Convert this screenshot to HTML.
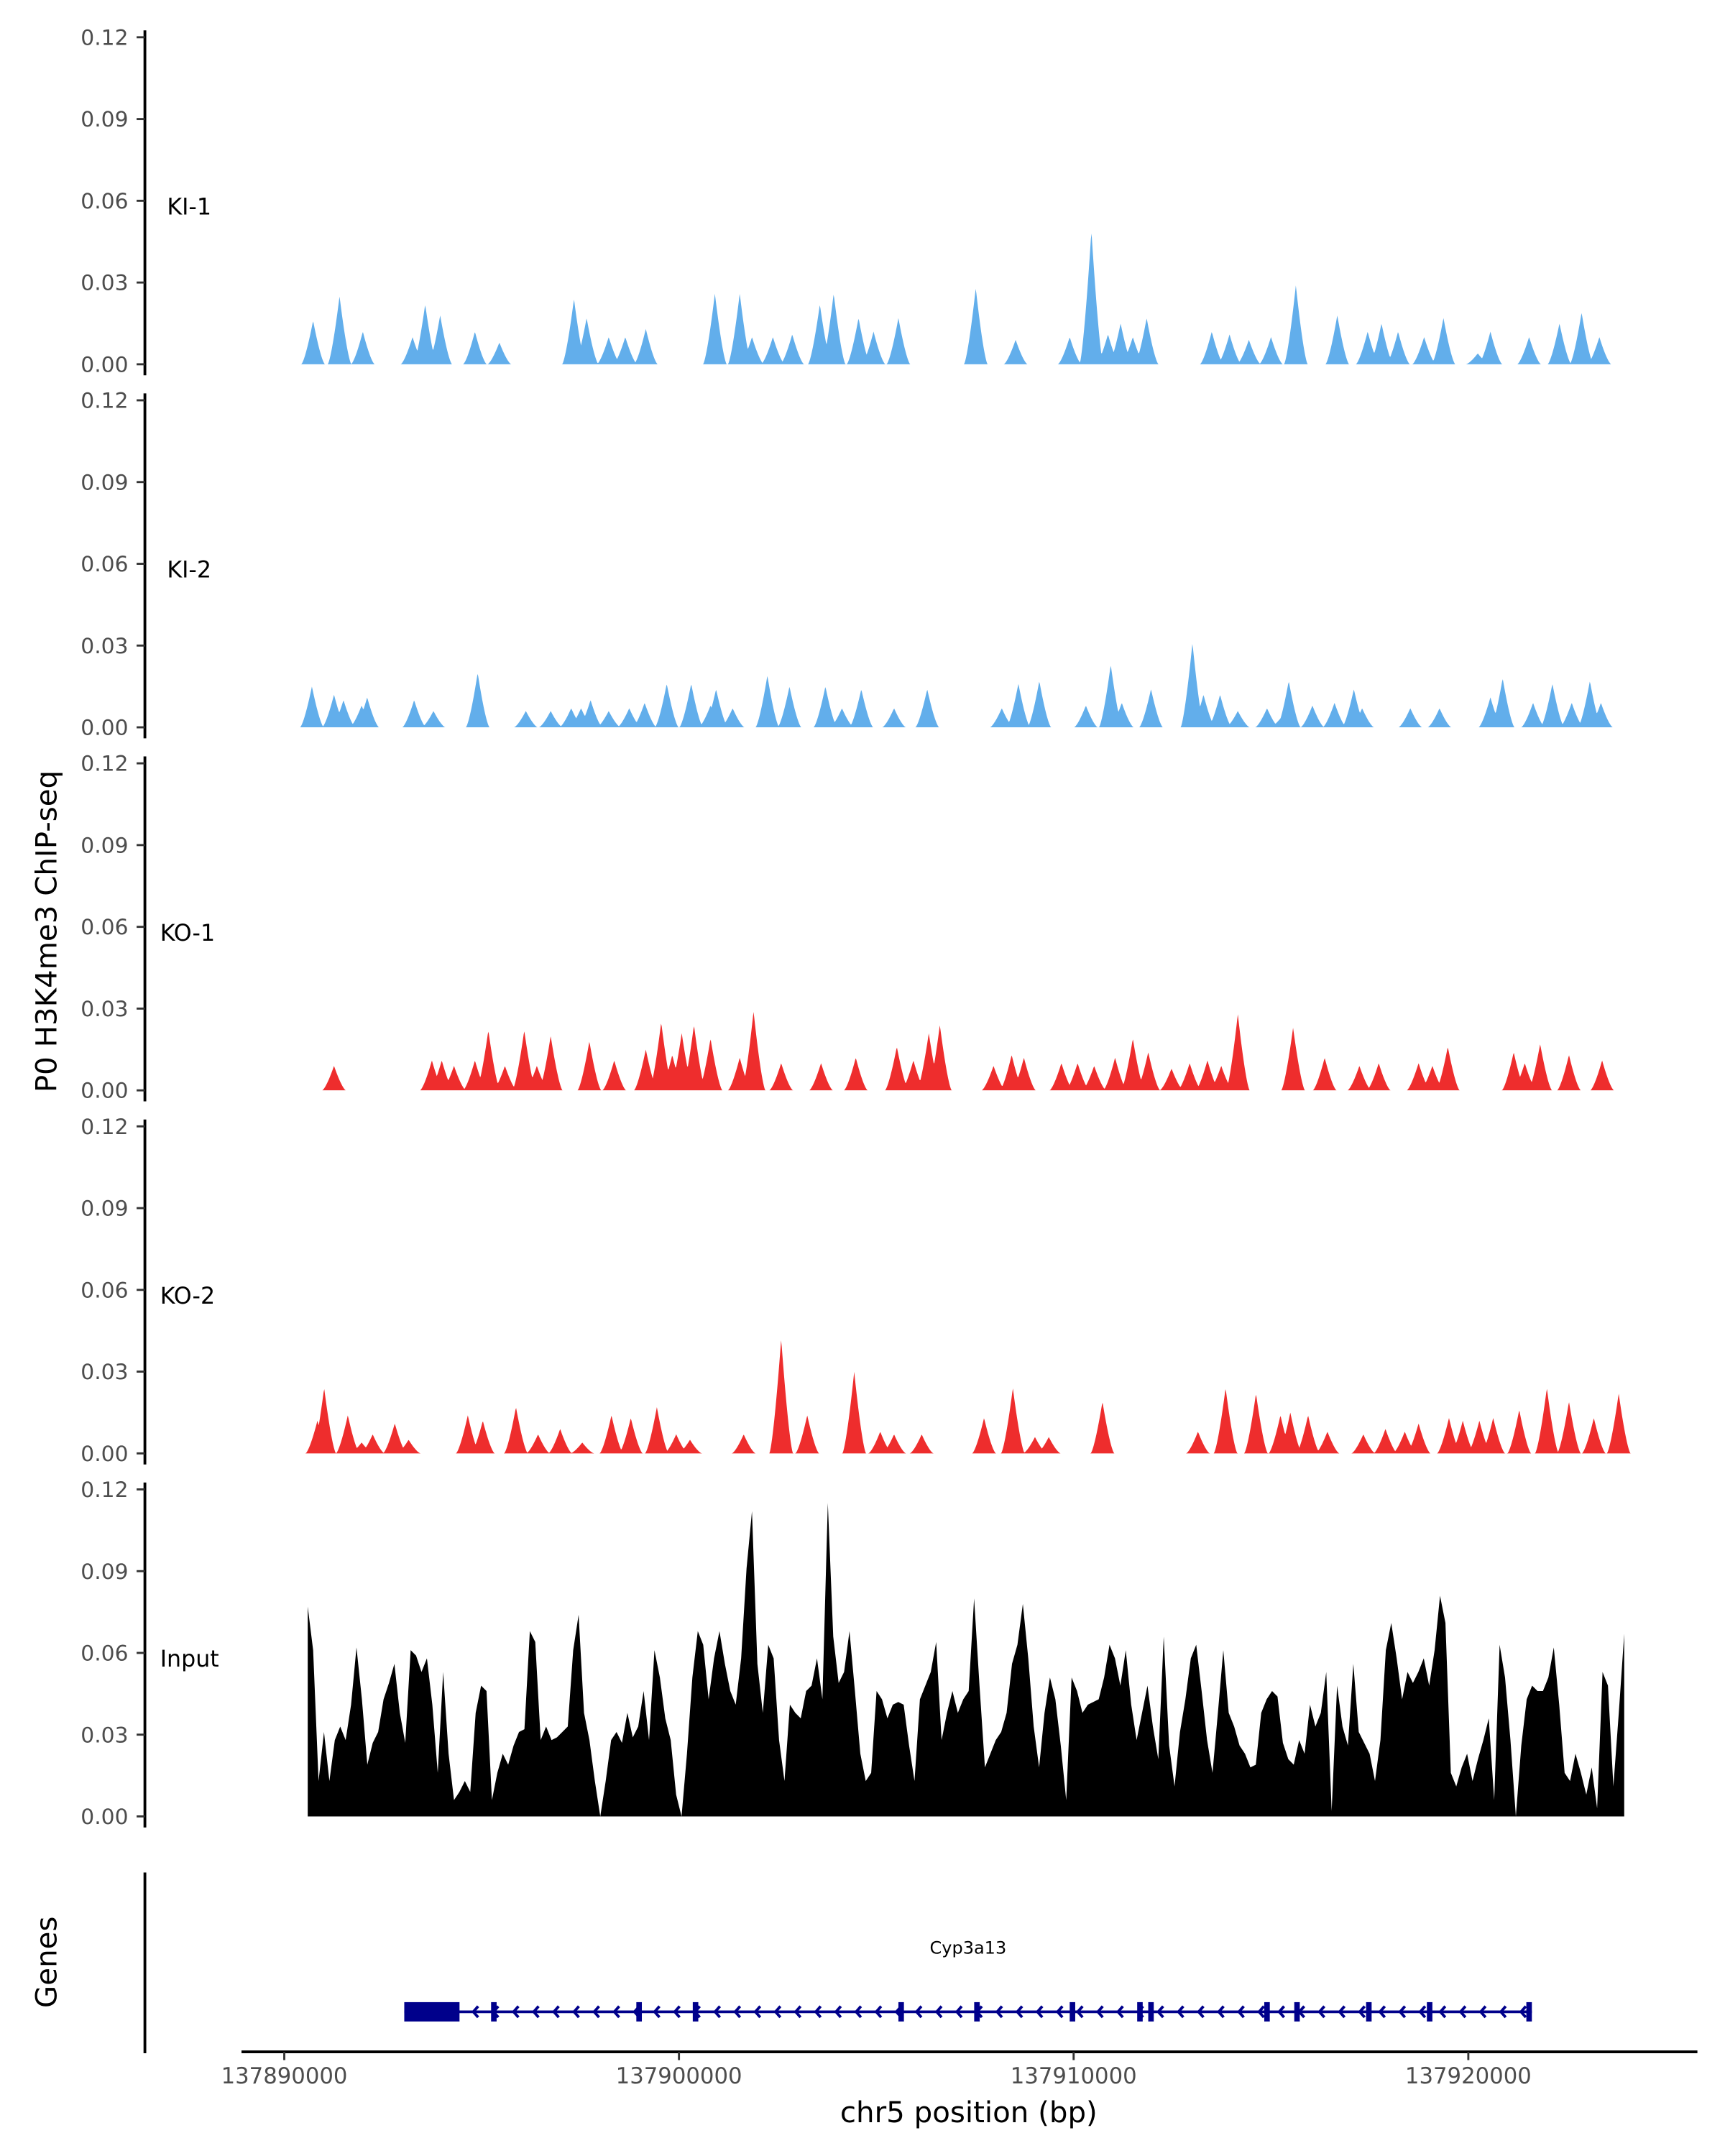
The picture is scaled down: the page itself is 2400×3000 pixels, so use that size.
<!DOCTYPE html>
<html><head><meta charset="utf-8"><style>
html,body{margin:0;padding:0;background:#fff}
svg{display:block}
text{font-family:"DejaVu Sans","Liberation Sans",sans-serif}
</style></head><body>
<svg id="chart" xmlns="http://www.w3.org/2000/svg" width="2400" height="3000" viewBox="0 0 1250 1562.5">
<rect width="1250" height="1562.5" fill="#fff"/>
<g id="tracks"></g>
<g id="genes"></g>
<text transform="translate(41,675) rotate(-90)" text-anchor="middle" font-size="21" fill="#000">P0 H3K4me3 ChIP-seq</text>
<text transform="translate(41,1422) rotate(-90)" text-anchor="middle" font-size="21" fill="#000">Genes</text>
<text x="702" y="1538" text-anchor="middle" font-size="21" fill="#000">chr5 position (bp)</text>
</svg>
<script>
// ---- data (positions in kb relative to 137,890,000; values x0.001) ----
const yTicks = [0, 0.03, 0.06, 0.09, 0.12];
const yTickLabels = ["0.00","0.03","0.06","0.09","0.12"];
const xTicks = [137890000, 137900000, 137910000, 137920000];
const xTickLabels = ["137890000","137900000","137910000","137920000"];
const trackNames = ["KI-1","KI-2","KO-1","KO-2","Input"];
const trackColors = ["#62aeeb","#62aeeb","#ee2d2d","#ee2d2d","#000000"];

const ki1Pos = [0.73,1.40,1.99,3.25,3.57,3.95,4.83,5.45,7.34,7.66,8.22,8.64,9.16,10.91,11.54,11.85,12.38,12.87,13.57,13.92,14.55,14.93,15.56,17.52,18.53,19.90,20.45,20.87,21.19,21.50,21.85,23.50,23.95,24.44,25.00,25.63,26.68,27.45,27.80,28.22,28.88,29.37,30.24,30.56,31.54,32.31,32.87,33.32];
const ki1Val = [16,25,12,10,22,18,12,8,24,17,10,10,13,26,26,10,10,11,22,26,17,12,17,28,9,10,49,11,15,10,17,12,11,9,10,29,18,12,15,12,10,17,4,12,10,15,19,10];

const ki2Pos = [0.70,1.26,1.50,1.96,2.10,3.29,3.78,4.90,6.12,6.75,7.27,7.52,7.76,8.22,8.74,9.13,9.69,10.31,10.80,10.94,11.36,12.24,12.80,13.71,14.13,14.62,15.45,16.29,18.18,18.60,19.13,20.31,20.94,21.22,21.96,23.01,23.29,23.71,24.16,24.90,25.28,25.45,26.05,26.61,27.10,27.31,28.53,29.27,30.56,30.87,31.64,32.13,32.62,33.08,33.36];
const ki2Val = [15,12,10,8,11,10,6,20,6,6,7,7,10,6,7,9,16,16,8,14,7,19,15,15,7,14,7,14,7,16,17,8,23,9,14,31,12,12,6,7,4,17,8,9,14,7,7,7,11,18,9,16,9,17,9];

const ko1Pos = [1.26,3.74,3.99,4.30,4.83,5.17,5.59,6.08,6.40,6.75,7.73,8.36,9.16,9.55,9.83,10.07,10.38,10.80,11.54,11.89,12.59,13.60,14.48,15.52,15.94,16.33,16.61,17.97,18.43,18.74,19.69,20.10,20.52,21.05,21.50,21.89,22.48,22.94,23.39,23.74,24.16,25.56,26.36,27.24,27.73,28.74,29.09,29.48,31.15,31.43,31.82,32.55,33.39];
const ko1Val = [9,11,11,9,11,22,9,22,9,20,18,11,15,25,13,21,24,19,12,29,10,10,12,16,11,21,24,9,13,12,10,10,9,12,19,14,8,10,11,9,28,23,12,9,10,10,9,16,14,10,17,13,11];

const ko2Pos = [0.84,1.01,1.61,1.96,2.24,2.80,3.15,4.65,5.03,5.87,6.43,6.99,7.55,8.29,8.78,9.44,9.93,10.28,11.64,12.59,13.25,14.44,15.10,15.45,16.15,17.73,18.46,19.02,19.37,20.73,23.15,23.85,24.62,25.24,25.49,25.94,26.43,27.34,27.90,28.39,28.74,29.51,29.86,30.28,30.63,31.29,31.99,32.55,33.18,33.81];
const ko2Val = [12,24,14,4,7,11,5,14,12,17,7,9,4,14,13,17,7,5,7,42,14,30,8,7,7,13,24,6,6,19,8,24,22,14,15,14,8,7,9,8,11,13,12,12,13,16,24,19,13,22];

const inputStartKb = 0.594;
const inputEndKb = 33.95;
const inputVal = [77,61,13,31,13,28,33,28,41,62,43,19,27,31,43,49,56,38,27,61,59,53,58,41,16,53,23,6,9,13,9,38,48,46,6,16,23,19,26,31,32,68,64,28,33,28,29,31,33,61,74,38,28,13,0,13,28,31,27,38,29,33,46,28,61,51,36,28,8,0,23,51,68,63,43,58,68,56,46,41,58,91,112,56,38,63,58,28,13,41,38,36,46,48,58,43,115,66,49,53,68,46,23,13,16,46,43,36,41,42,41,26,13,43,48,53,64,28,38,46,38,43,46,80,48,18,23,28,31,38,56,63,78,58,33,18,38,51,43,26,6,51,46,38,41,42,43,51,63,58,48,61,41,28,38,48,33,21,66,26,11,31,43,58,63,46,28,16,38,61,38,33,26,23,18,19,38,43,46,44,27,21,19,28,23,41,33,38,53,2,48,33,26,56,31,27,23,13,28,61,71,58,43,53,49,53,58,48,61,81,71,16,11,18,23,13,21,28,36,6,63,51,28,0,26,43,48,46,46,51,62,41,16,13,23,16,8,18,3,53,48,11,38,67];

const geneName = "Cyp3a13";
const geneStartKb = 3.04, geneEndKb = 31.61;
const utrStartKb = 3.04, utrEndKb = 4.44;
const exonKb = [5.31,8.99,10.42,15.63,17.55,19.97,21.68,21.96,24.90,25.66,27.48,29.02,31.54];

// ---- layout ----
const NS = "http://www.w3.org/2000/svg";
const X0 = 206, PXPERKB = 28.6;
const xScale = kb => X0 + kb * PXPERKB;
const panelTop0 = 27, panelH = 237, panelGap = 263.1;
function yScale(v, p){ const base = panelTop0 + p*panelGap + panelH; return base - v/0.12*panelH; }
function mk(tag, attrs, parent){ const e=document.createElementNS(NS,tag); for(const k in attrs) e.setAttribute(k,attrs[k]); parent.appendChild(e); return e; }

const tracks = document.getElementById('tracks');
const peakSets = [[ki1Pos,ki1Val],[ki2Pos,ki2Val],[ko1Pos,ko1Val],[ko2Pos,ko2Val]];
const HW = 0.3; // peak half-width in kb

for (let p=0;p<5;p++){
  const g = mk('g',{},tracks);
  
  
  const ax = mk('line',{x1:105,x2:105,y1:yScale(0.12,p)-5,y2:yScale(0,p)+8,stroke:'#000','stroke-width':2},g);
  
  
  yTicks.forEach((t,i)=>{
    const y = yScale(t,p);
    const tk = mk('line',{x1:99,x2:105,y1:y,y2:y,stroke:'#333','stroke-width':1.5},g);
    
    
    const tl = mk('text',{x:93,y:y+5.5,'text-anchor':'end','font-size':15.5,fill:'#4d4d4d'},g);
    tl.textContent = yTickLabels[i];
    
    
  });
  const lab = mk('text',{x:p>=2 ? 116 : 121,y:yScale(0.06,p)+10,'font-size':16.5,fill:'#000'},g);
  lab.textContent = trackNames[p];
  
  
  let d = '';
  if (p < 4){
    const [pos,val] = peakSets[p];
    const x1 = Math.floor(xScale(pos[0]-HW)), x2 = Math.ceil(xScale(pos[pos.length-1]+HW));
    d = 'M'+x1+','+yScale(0,p);
    for (let x=x1;x<=x2;x+=0.5){
      const kb = (x-X0)/PXPERKB; let v=0;
      for (let i=0;i<pos.length;i++){ const dd=Math.abs(kb-pos[i])/HW; if(dd<1){ const f=Math.pow(1-dd,1.4); v=Math.max(v,val[i]*f); } }
      d += 'L'+x+','+yScale(v/1000,p).toFixed(2);
    }
    d += 'L'+x2+','+yScale(0,p)+'Z';
  } else {
    const n = inputVal.length, step=(inputEndKb-inputStartKb)/(n-1);
    d = 'M'+xScale(inputStartKb)+','+yScale(0,p);
    inputVal.forEach((v,i)=>{ d+='L'+xScale(inputStartKb+i*step).toFixed(2)+','+yScale(v/1000,p).toFixed(2); });
    d += 'L'+xScale(inputEndKb)+','+yScale(0,p)+'Z';
  }
  const area = mk('path',{d:d,fill:trackColors[p]},g);
  
  
}

// ---- genes panel ----
const gg = document.getElementById('genes');
const gax = mk('line',{x1:105,x2:105,y1:1357,y2:1488,stroke:'#000','stroke-width':2},gg);


const xax = mk('line',{x1:175,x2:1230,y1:1487,y2:1487,stroke:'#000','stroke-width':2},gg);


xTicks.forEach((t,i)=>{
  const x = xScale((t-137890000)/1000);
  const tk = mk('line',{x1:x,x2:x,y1:1487,y2:1493,stroke:'#333','stroke-width':1.5},gg);
  
  
  const tl = mk('text',{x:x,y:1510,'text-anchor':'middle','font-size':16,fill:'#4d4d4d'},gg);
  tl.textContent = xTickLabels[i];
  
  
});
const GY = 1458, GC = '#00008b';
const gl = mk('line',{x1:xScale(geneStartKb),x2:xScale(geneEndKb),y1:GY,y2:GY,stroke:GC,'stroke-width':2},gg);


const utr = mk('rect',{x:xScale(utrStartKb),y:GY-7,width:xScale(utrEndKb)-xScale(utrStartKb),height:14,fill:GC},gg);


for (let x=xScale(utrEndKb)+10; x<xScale(geneEndKb)-4; x+=14.6){
  const c = mk('path',{d:'M'+(x+3.5)+','+(GY-4)+'L'+x+','+GY+'L'+(x+3.5)+','+(GY+4),fill:'none',stroke:GC,'stroke-width':2},gg);
  
  
}
exonKb.forEach(k=>{
  const ex = mk('rect',{x:xScale(k)-2,y:GY-7,width:4,height:14,fill:GC},gg);
  
  
});
const gn = mk('text',{x:xScale((geneStartKb+geneEndKb)/2),y:1416,'text-anchor':'middle','font-size':12.5,fill:'#000'},gg);
gn.textContent = geneName;


</script>
</body></html>
